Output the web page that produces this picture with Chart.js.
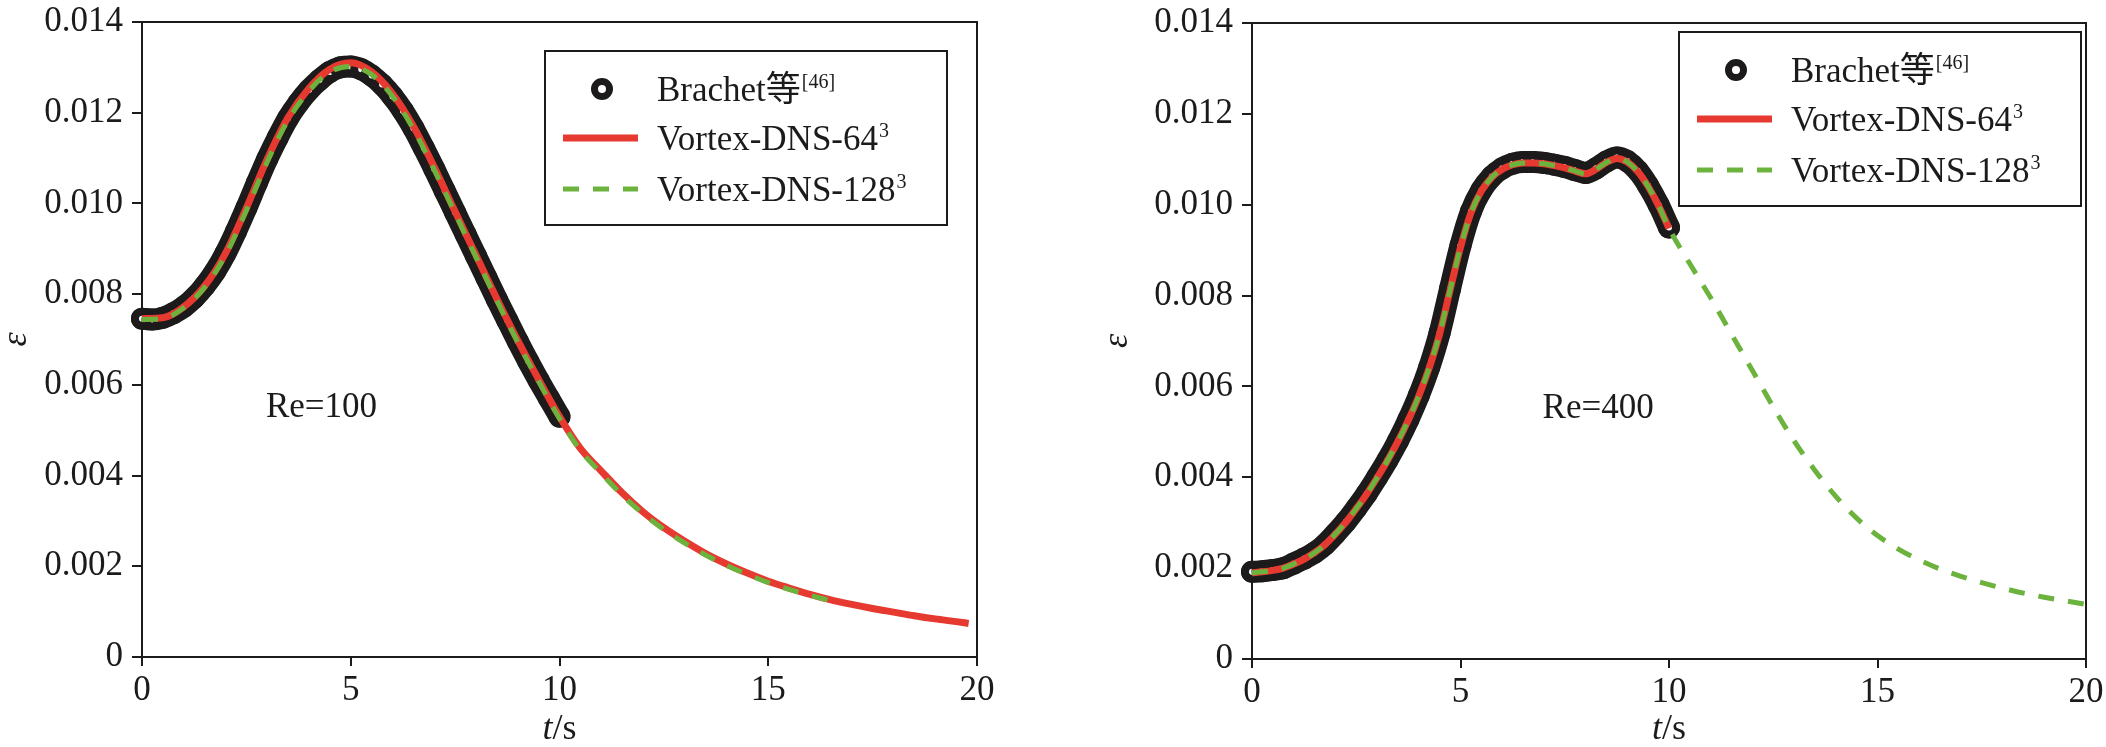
<!DOCTYPE html>
<html>
<head>
<meta charset="utf-8">
<title>Dissipation rate, Re=100 and Re=400</title>
<script src="https://cdn.jsdelivr.net/npm/chart.js@4.4.1/dist/chart.umd.min.js"></script>
<style>
    html, body { margin: 0; padding: 0; background: #fff; overflow: hidden; }
    #wrap { position: relative; width: 2106px; height: 747px; }
    canvas { position: absolute; top: 0; }
    #chart100 { left: 0; }
    #chart400 { left: 1053px; }
</style>
</head>
<body>
<div id="wrap">
    <canvas id="chart100" width="1053" height="747"></canvas>
    <canvas id="chart400" width="1053" height="747"></canvas>
</div>
<script>
// ---- values ----
const xTicks = [0, 5, 10, 15, 20];
const yTicks = [0, 0.002, 0.004, 0.006, 0.008, 0.010, 0.012, 0.014];
const yTickLabels = ['0', '0.002', '0.004', '0.006', '0.008', '0.010', '0.012', '0.014'];

const legendLabels = [['Brachet等', '[46]'], ['Vortex-DNS-64', '3'], ['Vortex-DNS-128', '3']];

// Brachet reference points (t = 0..10)
const tBrachet = [0, 0.25, 0.5, 0.75, 1, 1.25, 1.5, 1.75, 2, 2.25, 2.5, 2.75, 3, 3.25, 3.5, 3.75,
    4, 4.25, 4.5, 4.75, 5, 5.25, 5.5, 5.75, 6, 6.25, 6.5, 6.75, 7, 7.25, 7.5, 7.75,
    8, 8.25, 8.5, 8.75, 9, 9.25, 9.5, 9.75, 10];

// Re = 100
const brachet100 = [0.00746, 0.00744, 0.00748, 0.00758, 0.00772, 0.00792, 0.00818, 0.00850, 0.00890,
    0.00938, 0.00990, 0.01045, 0.01098, 0.01145, 0.01188, 0.01222, 0.01250, 0.01272, 0.01290,
    0.01300, 0.01302, 0.01296, 0.01282, 0.01262, 0.01236, 0.01204, 0.01166, 0.01122, 0.01076,
    0.01028, 0.00980, 0.00932, 0.00884, 0.00836, 0.00788, 0.00742, 0.00696, 0.00652, 0.00610,
    0.00570, 0.00530];

const tVortex64_100 = [0, 0.5, 1, 1.5, 2, 2.5, 3, 3.5, 4, 4.5, 5, 5.5, 6, 6.5, 7, 7.5, 8, 8.5, 9, 9.5,
    10, 10.5, 11, 11.5, 12, 12.5, 13, 13.5, 14, 14.5, 15, 15.5, 16, 16.5, 17, 17.5, 18, 18.5, 19, 19.5, 19.8];
const vortex64_100 = [0.00746, 0.00748, 0.00772, 0.00818, 0.00890, 0.00990, 0.01098, 0.01190, 0.01254,
    0.01296, 0.01310, 0.01290, 0.01242, 0.01170, 0.01080, 0.00982, 0.00886, 0.00790, 0.00698, 0.00612,
    0.00530, 0.00460, 0.00410, 0.00362, 0.00320, 0.00285, 0.00255, 0.00228, 0.00205, 0.00185,
    0.00167, 0.00152, 0.00138, 0.00126, 0.00116, 0.00107, 0.00099, 0.00091, 0.00084, 0.00078, 0.00074];

const tVortex128_100 = [0, 0.5, 1, 1.5, 2, 2.5, 3, 3.5, 4, 4.5, 5, 5.5, 6, 6.5, 7, 7.5, 8, 8.5, 9, 9.5,
    10, 10.5, 11, 11.5, 12, 12.5, 13, 13.5, 14, 14.5, 15, 15.5, 16, 16.5];
const vortex128_100 = [0.00744, 0.00746, 0.00770, 0.00815, 0.00886, 0.00985, 0.01092, 0.01184, 0.01248,
    0.01290, 0.01302, 0.01284, 0.01236, 0.01164, 0.01074, 0.00978, 0.00882, 0.00786, 0.00694, 0.00608,
    0.00526, 0.00456, 0.00405, 0.00357, 0.00316, 0.00281, 0.00251, 0.00225, 0.00202, 0.00182,
    0.00164, 0.00149, 0.00136, 0.00124];

// Re = 400
const brachet400 = [0.00192, 0.00193, 0.00196, 0.00200, 0.00210, 0.00221, 0.00234, 0.00252, 0.00276,
    0.00302, 0.00332, 0.00364, 0.00400, 0.00438, 0.00480, 0.00527, 0.00580, 0.00642, 0.00718,
    0.00815, 0.00910, 0.00985, 0.01032, 0.01062, 0.01080, 0.01090, 0.01094, 0.01094, 0.01092,
    0.01088, 0.01083, 0.01076, 0.01070, 0.01080, 0.01095, 0.01104, 0.01096, 0.01075, 0.01042,
    0.01000, 0.00950];

const tVortex64_400 = tBrachet;
const vortex64_400 = [0.00190, 0.00192, 0.00195, 0.00200, 0.00209, 0.00220, 0.00234, 0.00252, 0.00275,
    0.00301, 0.00331, 0.00363, 0.00399, 0.00437, 0.00479, 0.00526, 0.00579, 0.00641, 0.00716,
    0.00812, 0.00906, 0.00982, 0.01030, 0.01060, 0.01078, 0.01088, 0.01092, 0.01092, 0.01090,
    0.01086, 0.01081, 0.01074, 0.01068, 0.01078, 0.01093, 0.01102, 0.01094, 0.01073, 0.01040,
    0.00998, 0.00948];

const tVortex128_400 = [0, 0.25, 0.5, 0.75, 1, 1.25, 1.5, 1.75, 2, 2.25, 2.5, 2.75, 3, 3.25, 3.5, 3.75,
    4, 4.25, 4.5, 4.75, 5, 5.25, 5.5, 5.75, 6, 6.25, 6.5, 6.75, 7, 7.25, 7.5, 7.75,
    8, 8.25, 8.5, 8.75, 9, 9.25, 9.5, 9.75, 10, 10.5, 11, 11.5, 12, 12.5, 13, 13.5, 14, 14.5,
    15, 15.5, 16, 16.5, 17, 17.5, 18, 18.5, 19, 19.5, 20];
const vortex128_400 = [0.00190, 0.00192, 0.00195, 0.00200, 0.00209, 0.00220, 0.00234, 0.00252, 0.00275,
    0.00301, 0.00331, 0.00363, 0.00399, 0.00437, 0.00479, 0.00526, 0.00579, 0.00641, 0.00716,
    0.00812, 0.00906, 0.00982, 0.01030, 0.01060, 0.01078, 0.01088, 0.01092, 0.01092, 0.01090,
    0.01086, 0.01081, 0.01074, 0.01068, 0.01078, 0.01093, 0.01102, 0.01094, 0.01073, 0.01040,
    0.00998, 0.00948, 0.00870, 0.00795, 0.00715, 0.00635, 0.00555, 0.00480, 0.00415, 0.00358,
    0.00310, 0.00272, 0.00242, 0.00218, 0.00198, 0.00182, 0.00168, 0.00156, 0.00145, 0.00136,
    0.00128, 0.00120];

// ---- styling ----
const ink = '#1c1a1a';
const red = '#e63a30';
const green = '#6cb33e';
const serif = "'Liberation Serif', 'Times New Roman', 'Noto Sans CJK SC', serif";

function pairs(ts, vs) {
    return ts.map((t, i) => ({ x: t, y: vs[i] }));
}

function drawSupText(ctx, x, y, main, sup) {
    ctx.font = '35px ' + serif;
    ctx.textAlign = 'left';
    ctx.textBaseline = 'alphabetic';
    ctx.fillText(main, x, y);
    const w = ctx.measureText(main).width;
    ctx.font = '20px ' + serif;
    ctx.fillText(sup, x + w + 1, y - 13);
}

// frame, axis titles, Re label and the boxed legend
const overlayPlugin = {
    id: 'overlay',
    beforeDatasetsDraw(chart) {
        const { ctx, chartArea: a } = chart;
        ctx.save();
        ctx.strokeStyle = ink;
        ctx.lineWidth = 2;
        ctx.beginPath();
        ctx.moveTo(a.left - 1, a.top);
        ctx.lineTo(a.right, a.top);
        ctx.lineTo(a.right, a.bottom + 1);
        ctx.stroke();
        ctx.restore();
    },
    afterDraw(chart, args, opts) {
        const { ctx, chartArea: a } = chart;
        ctx.save();
        ctx.fillStyle = ink;

        // y title (italic epsilon, rotated)
        ctx.save();
        ctx.translate(opts.epsX, (a.top + a.bottom) / 2);
        ctx.rotate(-Math.PI / 2);
        ctx.font = 'italic 36px ' + serif;
        ctx.textAlign = 'center';
        ctx.textBaseline = 'middle';
        ctx.fillText('ε', 0, 0);
        ctx.restore();

        // x title: italic t + "/s"
        ctx.font = 'italic 36px ' + serif;
        const wt = ctx.measureText('t').width;
        ctx.font = '36px ' + serif;
        const ws = ctx.measureText('/s').width;
        const x0 = (a.left + a.right) / 2 - (wt + ws) / 2;
        ctx.textAlign = 'left';
        ctx.textBaseline = 'middle';
        ctx.font = 'italic 36px ' + serif;
        ctx.fillText('t', x0, opts.titleY);
        ctx.font = '36px ' + serif;
        ctx.fillText('/s', x0 + wt, opts.titleY);

        // Reynolds number label
        ctx.font = '35px ' + serif;
        ctx.textAlign = 'center';
        ctx.fillText(opts.re.text,
            chart.scales.x.getPixelForValue(opts.re.t),
            chart.scales.y.getPixelForValue(opts.re.v));

        // legend box
        const L = opts.legend;
        ctx.fillStyle = '#fff';
        ctx.fillRect(L.x, L.y, 402, 174);
        ctx.strokeStyle = ink;
        ctx.lineWidth = 2;
        ctx.strokeRect(L.x, L.y, 402, 174);

        const rows = [L.y + 38, L.y + 87, L.y + 138];
        // marker
        ctx.beginPath();
        ctx.arc(L.x + 57, rows[0], 7.5, 0, Math.PI * 2);
        ctx.lineWidth = 7;
        ctx.strokeStyle = ink;
        ctx.fillStyle = '#fff';
        ctx.fill();
        ctx.stroke();
        // solid red
        ctx.beginPath();
        ctx.moveTo(L.x + 18, rows[1]);
        ctx.lineTo(L.x + 93, rows[1]);
        ctx.strokeStyle = red;
        ctx.lineWidth = 7;
        ctx.stroke();
        // dashed green
        ctx.beginPath();
        ctx.setLineDash([16, 14]);
        ctx.moveTo(L.x + 18, rows[2]);
        ctx.lineTo(L.x + 93, rows[2]);
        ctx.strokeStyle = green;
        ctx.lineWidth = 5;
        ctx.stroke();
        ctx.setLineDash([]);

        ctx.fillStyle = ink;
        legendLabels.forEach((lab, i) => {
            drawSupText(ctx, L.x + 112, rows[i] + 12, lab[0], lab[1]);
        });
        ctx.restore();
    }
};

function makeChart(id, cfg) {
    return new Chart(document.getElementById(id), {
        type: 'line',
        data: {
            datasets: [
                {
                    label: 'Brachet',
                    data: pairs(tBrachet, cfg.brachet),
                    order: 3,
                    showLine: true,
                    borderColor: ink,
                    borderWidth: 22,
                    borderCapStyle: 'round',
                    borderJoinStyle: 'round',
                    cubicInterpolationMode: 'monotone',
                    pointRadius: 7,
                    pointBorderWidth: 8,
                    pointBorderColor: ink,
                    pointBackgroundColor: '#fff',
                    clip: false
                },
                {
                    label: 'Vortex-DNS-64',
                    data: pairs(cfg.t64, cfg.v64),
                    order: 2,
                    borderColor: red,
                    borderWidth: 7,
                    cubicInterpolationMode: 'monotone',
                    pointRadius: 0
                },
                {
                    label: 'Vortex-DNS-128',
                    data: pairs(cfg.t128, cfg.v128),
                    order: 1,
                    borderColor: green,
                    borderWidth: 5,
                    borderDash: [16, 14],
                    cubicInterpolationMode: 'monotone',
                    pointRadius: 0
                }
            ]
        },
        options: {
            responsive: false,
            animation: false,
            devicePixelRatio: 1,
            events: [],
            layout: { padding: cfg.pad },
            plugins: {
                legend: { display: false },
                tooltip: { enabled: false },
                overlay: cfg.overlay
            },
            scales: {
                x: {
                    type: 'linear',
                    min: 0,
                    max: 20,
                    afterBuildTicks: s => { s.ticks = xTicks.map(v => ({ value: v })); },
                    afterFit: s => { s.height = cfg.xH; s.paddingLeft = 0; s.paddingRight = 0; },
                    grid: { drawOnChartArea: false, drawTicks: true, tickLength: 9, color: ink, lineWidth: 2 },
                    border: { display: true, color: ink, width: 2 },
                    ticks: { color: ink, font: { family: serif, size: 35 }, padding: 4, maxRotation: 0, autoSkip: false }
                },
                y: {
                    type: 'linear',
                    min: 0,
                    max: 0.014,
                    afterBuildTicks: s => { s.ticks = yTicks.map(v => ({ value: v })); },
                    afterFit: s => { s.width = cfg.yW; s.paddingTop = 0; s.paddingBottom = 0; },
                    grid: { drawOnChartArea: false, drawTicks: true, tickLength: 10, color: ink, lineWidth: 2 },
                    border: { display: true, color: ink, width: 2 },
                    ticks: {
                        color: ink,
                        font: { family: serif, size: 35 },
                        padding: 9,
                        autoSkip: false,
                        callback: (v, i) => yTickLabels[i]
                    }
                }
            }
        },
        plugins: [overlayPlugin]
    });
}

makeChart('chart100', {
    brachet: brachet100,
    t64: tVortex64_100, v64: vortex64_100,
    t128: tVortex128_100, v128: vortex128_100,
    pad: { top: 22, right: 76, bottom: 0, left: 0 },
    yW: 142, xH: 90,
    overlay: { epsX: 17, titleY: 730, re: { text: 'Re=100', t: 4.3, v: 0.0055 }, legend: { x: 545, y: 51 } }
});

makeChart('chart400', {
    brachet: brachet400,
    t64: tVortex64_400, v64: vortex64_400,
    t128: tVortex128_400, v128: vortex128_400,
    pad: { top: 23, right: 20, bottom: 0, left: 0 },
    yW: 199, xH: 88,
    overlay: { epsX: 65, titleY: 730, re: { text: 'Re=400', t: 8.3, v: 0.0055 }, legend: { x: 626, y: 32 } }
});
</script>
</body>
</html>
